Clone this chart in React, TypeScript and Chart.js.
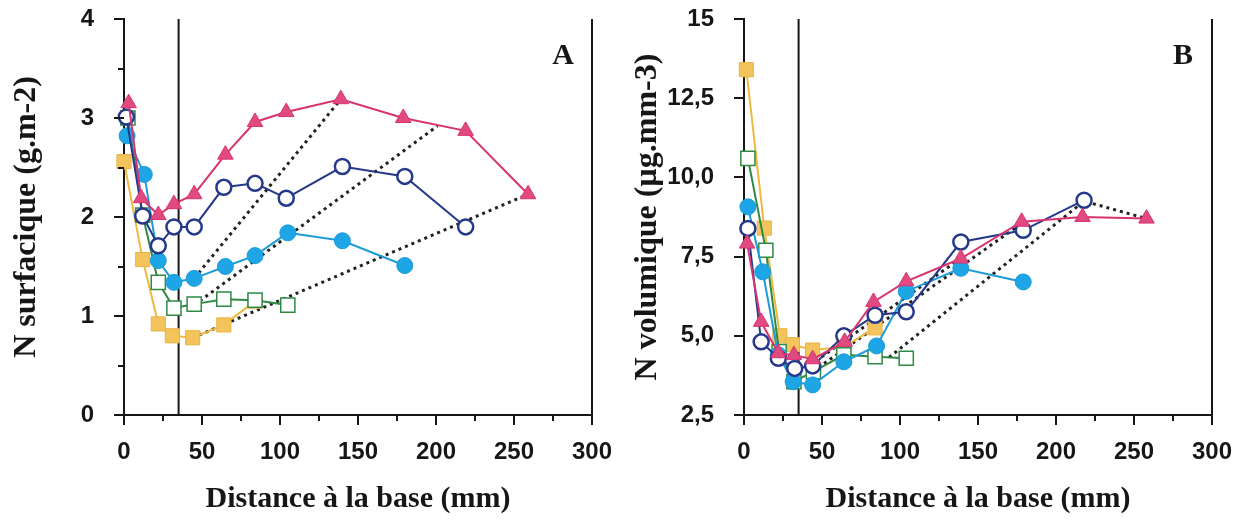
import React, { useEffect, useRef } from 'react';
import { Chart, registerables } from 'chart.js';
Chart.register(...registerables);

// ---------- Panel A : N surfacique (g.m-2) ----------
const A_MAG_X = [3, 11, 22, 32, 45, 65, 84, 104, 139, 179, 219, 259];
const A_MAG_Y = [3.15, 2.19, 2.02, 2.13, 2.23, 2.63, 2.96, 3.06, 3.19, 3.0, 2.87, 2.23];
const A_NAVY_X = [1.5, 12, 22, 32, 45, 64, 84, 104, 140, 180, 219];
const A_NAVY_Y = [3.01, 2.01, 1.71, 1.9, 1.9, 2.3, 2.34, 2.19, 2.51, 2.41, 1.9];
const A_CYAN_X = [2, 13, 22, 32, 45, 65, 84, 105, 140, 180];
const A_CYAN_Y = [2.82, 2.43, 1.56, 1.34, 1.38, 1.5, 1.61, 1.84, 1.76, 1.51];
const A_GREEN_X = [2.5, 12, 22, 32, 45, 64, 84, 105];
const A_GREEN_Y = [3.0, 2.02, 1.34, 1.08, 1.12, 1.17, 1.16, 1.11];
const A_YEL_X = [0, 12, 22, 31, 44, 64, 84];
const A_YEL_Y = [2.56, 1.57, 0.92, 0.8, 0.78, 0.91, 1.15];
const A_DOT1_X = [44, 259];
const A_DOT1_Y = [0.78, 2.23];
const A_DOT2_X = [45, 201];
const A_DOT2_Y = [1.11, 2.92];
const A_DOT3_X = [45, 139];
const A_DOT3_Y = [1.38, 3.19];

// ---------- Panel B : N volumique (µg.mm-3) ----------
const B_MAG_X = [2, 11, 22, 32, 44, 64.5, 83, 104, 139, 178, 217, 258];
const B_MAG_Y = [7.91, 5.44, 4.45, 4.39, 4.26, 4.81, 6.07, 6.72, 7.44, 8.6, 8.75, 8.7];
const B_NAVY_X = [2.5, 11, 22, 32.5, 44, 64, 84, 104, 139, 179, 218];
const B_NAVY_Y = [8.39, 4.81, 4.29, 3.97, 4.05, 5.0, 5.65, 5.76, 7.96, 8.33, 9.28];
const B_CYAN_X = [2.5, 12, 22, 31.5, 44, 64, 85, 104, 139, 179];
const B_CYAN_Y = [9.07, 7.02, 4.4, 3.55, 3.45, 4.18, 4.68, 6.4, 7.13, 6.7];
const B_GREEN_X = [2.5, 14, 22.5, 32, 44.5, 64, 84, 104];
const B_GREEN_Y = [10.6, 7.7, 4.5, 3.55, 3.87, 4.4, 4.34, 4.29];
const B_YEL_X = [1.5, 13, 23, 31, 44, 64, 84];
const B_YEL_Y = [13.4, 8.4, 5.0, 4.72, 4.55, 4.65, 5.25];
const B_DOT1_X = [44, 178];
const B_DOT1_Y = [3.87, 8.55];
const B_DOT2_X = [46, 139];
const B_DOT2_Y = [4.2, 7.45];
const B_DOT3_X = [93, 218, 258];
const B_DOT3_Y = [4.32, 9.25, 8.7];

// ---------- Axes ----------
const X_MIN = 0;
const X_MAX = 300;
const X_MAJOR = [0, 50, 100, 150, 200, 250, 300];
const A_Y_MIN = 0;
const A_Y_MAX = 4;
const A_Y_MAJOR = [0, 1, 2, 3, 4];
const B_Y_MIN = 2.5;
const B_Y_MAX = 15;
const B_Y_TICKS = [2.5, 5, 7.5, 10, 12.5, 15];
const B_Y_LABELS = ['2,5', '5,0', '7,5', '10,0', '12,5', '15'];
const BASE_LINE_X = 35;

const X_TITLE = 'Distance à la base (mm)';
const A_Y_TITLE = 'N surfacique (g.m-2)';
const B_Y_TITLE = 'N volumique (µg.mm-3)';

const pts = (xs: number[], ys: number[]) => xs.map((x, i) => ({ x, y: ys[i] }));

const INK = '#161616';
const TICK_FONT = { family: '"Liberation Sans", Arial, sans-serif', weight: 'bold' as const, size: 24 };
const TITLE_FONT_Y = { family: '"Liberation Serif", "Times New Roman", serif', weight: 'bold' as const, size: 32 };
const TITLE_FONT_X = { family: '"Liberation Serif", "Times New Roman", serif', weight: 'bold' as const, size: 30 };

const framePlugin = {
  id: 'frame',
  afterDraw(chart: any, _args: any, opts: any) {
    const { ctx, chartArea: a, scales } = chart;
    const sx = scales.x;
    const sy = scales.y;
    ctx.save();
    ctx.strokeStyle = INK;
    ctx.lineWidth = 2;
    ctx.beginPath();
    ctx.moveTo(a.right, a.top);
    ctx.lineTo(a.right, a.bottom + 1);
    sx.ticks.forEach((t: any) => {
      const px = Math.round(sx.getPixelForValue(t.value));
      const len = opts.majorX.includes(t.value) ? 10 : 6;
      ctx.moveTo(px, a.bottom);
      ctx.lineTo(px, a.bottom + len);
    });
    sy.ticks.forEach((t: any) => {
      const py = Math.round(sy.getPixelForValue(t.value));
      const len = opts.majorY.includes(t.value) ? 10 : 6;
      ctx.moveTo(a.left, py);
      ctx.lineTo(a.left - len, py);
    });
    ctx.stroke();
    ctx.fillStyle = INK;
    ctx.font = 'bold 30px "Liberation Serif", "Times New Roman", serif';
    ctx.textAlign = 'center';
    ctx.textBaseline = 'middle';
    ctx.fillText(opts.letter, a.right - 29, a.top + 37);
    ctx.restore();
  },
};

function series(label: string, data: any[], kind: string) {
  const common: any = { label, data, showLine: true, clip: false, borderWidth: 2, pointHoverRadius: 8 };
  switch (kind) {
    case 'mag':
      return { ...common, borderColor: '#d8336f', pointBackgroundColor: '#e04a80', pointBorderColor: '#d8336f', pointStyle: 'triangle', pointRadius: 9, pointBorderWidth: 1 };
    case 'navy':
      return { ...common, borderColor: '#25398a', pointBackgroundColor: '#ffffff', pointBorderColor: '#25398a', pointStyle: 'circle', pointRadius: 7.5, pointBorderWidth: 2.5 };
    case 'cyan':
      return { ...common, borderColor: '#1d9bd8', pointBackgroundColor: '#1ea5e6', pointBorderColor: '#1d9bd8', pointStyle: 'circle', pointRadius: 8, pointBorderWidth: 1 };
    case 'green':
      return { ...common, borderColor: '#2e8a45', pointBackgroundColor: '#ffffff', pointBorderColor: '#2e8a45', pointStyle: 'rect', pointRadius: 10, pointBorderWidth: 1.5 };
    case 'yel':
      return { ...common, borderColor: '#efb83f', pointBackgroundColor: '#f3c45c', pointBorderColor: '#e9b446', pointStyle: 'rect', pointRadius: 10, pointBorderWidth: 1 };
    case 'dot':
      return { ...common, borderColor: '#222222', borderWidth: 3, borderDash: [3, 4], pointRadius: 0 };
    default:
      return { ...common, borderColor: INK, borderWidth: 2, pointRadius: 0 };
  }
}

const zeroPad = (s: any) => {
  s.paddingTop = 0;
  s.paddingBottom = 0;
  s.paddingLeft = 0;
  s.paddingRight = 0;
};

function makeConfig(p: any) {
  return {
    type: 'scatter' as const,
    data: {
      datasets: [
        series('mag', pts(p.mx, p.my), 'mag'),
        series('navy', pts(p.nx, p.ny), 'navy'),
        series('cyan', pts(p.cx, p.cy), 'cyan'),
        series('green', pts(p.gx, p.gy), 'green'),
        series('yellow', pts(p.yx, p.yy), 'yel'),
        ...p.dots.map((d: any, i: number) => series('dot' + i, pts(d[0], d[1]), 'dot')),
        series('base', pts([BASE_LINE_X, BASE_LINE_X], [p.ymin, p.ymax]), 'vline'),
      ],
    },
    options: {
      responsive: false,
      animation: false as const,
      devicePixelRatio: 1,
      layout: { padding: { top: 19, right: p.padRight, left: 0, bottom: 0 } },
      plugins: {
        legend: { display: false },
        tooltip: { enabled: false },
        frame: { letter: p.letter, majorX: X_MAJOR, majorY: p.majorY },
      },
      scales: {
        x: {
          type: 'linear' as const,
          min: X_MIN,
          max: X_MAX,
          afterFit: (s: any) => { s.height = 107; zeroPad(s); },
          grid: { display: false },
          border: { display: true, color: INK, width: 2 },
          ticks: {
            stepSize: 25,
            autoSkip: false,
            maxRotation: 0,
            padding: 15,
            color: INK,
            font: TICK_FONT,
            callback: (v: any) => (X_MAJOR.includes(v) ? String(v) : ''),
          },
          title: { display: true, text: X_TITLE, color: INK, font: TITLE_FONT_X, padding: { top: 0, bottom: 5 } },
        },
        y: {
          type: 'linear' as const,
          min: p.ymin,
          max: p.ymax,
          afterFit: (s: any) => { s.width = 124; zeroPad(s); },
          grid: { display: false },
          border: { display: true, color: INK, width: 2 },
          ticks: {
            stepSize: p.ystep,
            autoSkip: false,
            padding: 22,
            color: INK,
            font: TICK_FONT,
            callback: p.ylabel,
          },
          title: { display: true, text: p.ytitle, color: INK, font: TITLE_FONT_Y, padding: { top: p.titlePad, bottom: 0 } },
        },
      },
    },
    plugins: [framePlugin],
  };
}

const PANEL_A = {
  letter: 'A',
  mx: A_MAG_X, my: A_MAG_Y, nx: A_NAVY_X, ny: A_NAVY_Y, cx: A_CYAN_X, cy: A_CYAN_Y,
  gx: A_GREEN_X, gy: A_GREEN_Y, yx: A_YEL_X, yy: A_YEL_Y,
  dots: [[A_DOT1_X, A_DOT1_Y], [A_DOT2_X, A_DOT2_Y], [A_DOT3_X, A_DOT3_Y]],
  ymin: A_Y_MIN, ymax: A_Y_MAX, ystep: 0.5, majorY: A_Y_MAJOR,
  ylabel: (v: any) => (A_Y_MAJOR.includes(v) ? String(v) : ''),
  ytitle: A_Y_TITLE, titlePad: 8, padRight: 28,
};

const PANEL_B = {
  letter: 'B',
  mx: B_MAG_X, my: B_MAG_Y, nx: B_NAVY_X, ny: B_NAVY_Y, cx: B_CYAN_X, cy: B_CYAN_Y,
  gx: B_GREEN_X, gy: B_GREEN_Y, yx: B_YEL_X, yy: B_YEL_Y,
  dots: [[B_DOT1_X, B_DOT1_Y], [B_DOT2_X, B_DOT2_Y], [B_DOT3_X, B_DOT3_Y]],
  ymin: B_Y_MIN, ymax: B_Y_MAX, ystep: 2.5, majorY: B_Y_TICKS,
  ylabel: (v: any) => { const i = B_Y_TICKS.indexOf(v); return i >= 0 ? B_Y_LABELS[i] : ''; },
  ytitle: B_Y_TITLE, titlePad: 9, padRight: 29,
};

function Panel({ cfg, left, width }: { cfg: any; left: number; width: number }) {
  const ref = useRef<HTMLCanvasElement | null>(null);
  useEffect(() => {
    if (!ref.current) return;
    const chart = new Chart(ref.current, makeConfig(cfg) as any);
    return () => chart.destroy();
  }, [cfg]);
  return (
    <canvas
      ref={ref}
      width={width}
      height={522}
      style={{ position: 'absolute', left, top: 0, width, height: 522 }}
    />
  );
}

export default function App() {
  return (
    <div style={{ position: 'fixed', left: 0, top: 0, width: 1241, height: 522, background: '#fff', overflow: 'hidden' }}>
      <Panel cfg={PANEL_A} left={0} width={620} />
      <Panel cfg={PANEL_B} left={620} width={621} />
    </div>
  );
}
